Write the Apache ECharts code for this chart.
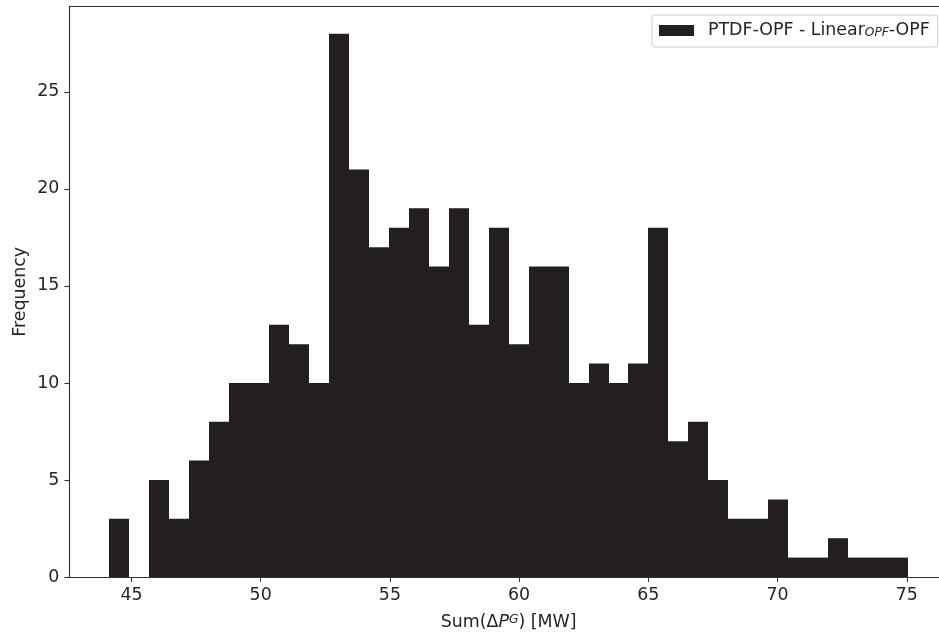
<!DOCTYPE html>
<html>
<head>
<meta charset="utf-8">
<script src="https://cdn.jsdelivr.net/npm/echarts@6/dist/echarts.min.js"></script>
<style>
html,body{margin:0;padding:0;background:#fff;}
#chart{width:939px;height:637px;}
</style>
</head>
<body>
<div id="chart"></div>
<script>
// Histogram counts (40 equal-width bins)
const counts = [3,0,5,3,6,8,10,10,13,12,10,28,21,17,18,19,16,19,13,18,12,16,16,10,11,10,11,18,7,8,5,3,3,4,1,1,2,1,1,1];
const binRange = [44.14, 75.05];
const xTicks = [45,50,55,60,65,70,75];
const yTicks = [0,5,10,15,20,25];
const seriesName = 'PTDF-OPF - Linear{sub|OPF}-OPF';
const yTitle = 'Frequency';

const nBins = counts.length;
const w = (binRange[1]-binRange[0])/nBins;
const data = counts.map((c,i)=>[binRange[0]+i*w, binRange[0]+(i+1)*w, c]);
const xPad = (binRange[1]-binRange[0])*0.05;
const yMax = Math.max(...counts)*1.05;

const FONT = 'DejaVu Sans';
const FS = 17.4;
const SFS = 12.2;
const AX = '#333333';
const TXT = '#262626';
const BAR = '#231f20';

const chart = echarts.init(document.getElementById('chart'), null, {renderer:'canvas'});
chart.setOption({
  animation:false,
  backgroundColor:'#ffffff',
  textStyle:{fontFamily:FONT},
  grid:{left:69.3, top:6.6, width:878.7, height:570.4, show:false, outerBoundsMode:'none', containLabel:false},
  graphic:[{
    type:'text', x:20, y:291.8, rotation:Math.PI/2,
    style:{text:yTitle, fontFamily:FONT, fontSize:FS, fill:TXT, align:'center', verticalAlign:'middle'}
  }],
  legend:{
    data:[{name:seriesName, icon:'rect'}],
    left:652, top:15,
    itemWidth:35, itemHeight:11,
    padding:[7,8,8,7],
    backgroundColor:'rgba(255,255,255,0.8)',
    borderColor:'#cccccc', borderWidth:1, borderRadius:3,
    textStyle:{fontFamily:FONT, fontSize:FS, color:TXT, padding:[0,0,0,9],
      rich:{sub:{fontFamily:FONT, fontSize:SFS, fontStyle:'italic', color:TXT, verticalAlign:'bottom'}}},
    formatter:function(n){return n;}
  },
  xAxis:[{
    type:'value', min:binRange[0]-xPad, max:binRange[1]+xPad,
    name:'Sum(Δ{i|P}{sup|G}) [MW]', nameLocation:'middle', nameGap:37,
    nameTextStyle:{fontFamily:FONT, fontSize:FS, color:TXT,
      rich:{i:{fontFamily:FONT, fontSize:FS, fontStyle:'italic', color:TXT},
            sup:{fontFamily:FONT, fontSize:SFS, fontStyle:'italic', color:TXT, verticalAlign:'top'}}},
    axisLine:{show:true, onZero:false, lineStyle:{color:AX, width:1.1}},
    axisTick:{show:true, length:4.9, lineStyle:{color:AX, width:1.1}, customValues:xTicks},
    axisLabel:{fontFamily:FONT, fontSize:FS, color:TXT, margin:10, customValues:xTicks},
    splitLine:{show:false}
  },{
    type:'value', position:'top', min:binRange[0]-xPad, max:binRange[1]+xPad,
    axisLine:{show:true, onZero:false, lineStyle:{color:AX, width:1.1}},
    axisTick:{show:false}, axisLabel:{show:false}, splitLine:{show:false}
  }],
  yAxis:{
    type:'value', min:0, max:yMax,
    axisLine:{show:true, lineStyle:{color:AX, width:1.1}},
    axisTick:{show:true, length:4.9, lineStyle:{color:AX, width:1.1}, customValues:yTicks},
    axisLabel:{fontFamily:FONT, fontSize:FS, color:TXT, margin:10, customValues:yTicks},
    splitLine:{show:false}
  },
  series:[{
    name:seriesName, type:'custom',
    xAxisIndex:0,
    itemStyle:{color:BAR},
    encode:{x:[0,1], y:2},
    data:data,
    renderItem:function(params, api){
      const p0 = api.coord([api.value(0), api.value(2)]);
      const p1 = api.coord([api.value(1), 0]);
      const x0 = Math.round(p0[0]), x1 = Math.round(p1[0]);
      const y0 = p0[1], y1 = p1[1];
      return {type:'rect', shape:{x:x0, y:y0, width:x1-x0, height:y1-y0}, style:{fill:BAR}};
    }
  }]
});
</script>
</body>
</html>
